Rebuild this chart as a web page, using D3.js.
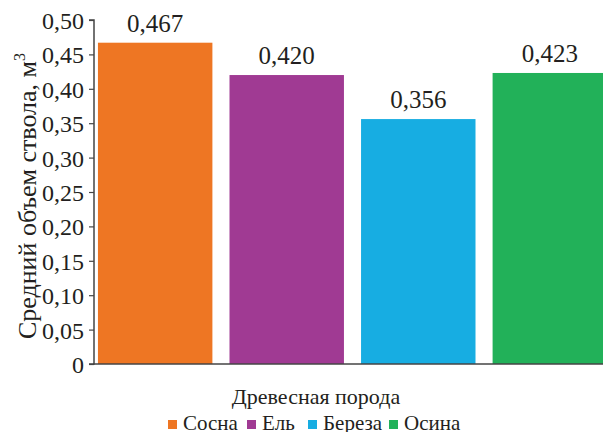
<!DOCTYPE html>
<html>
<head>
<meta charset="utf-8">
<script src="https://cdn.jsdelivr.net/npm/d3@7"></script>
</head>
<body style="margin:0;background:#fff">
<div id="chart"></div>
<script>
var species = ["Сосна", "Ель", "Береза", "Осина"];
var volumes = [0.467, 0.420, 0.356, 0.423];
var valueLabels = ["0,467", "0,420", "0,356", "0,423"];
var colors = ["#ee7623", "#a03a93", "#17ade2", "#22b159"];
var yTicks = [0, 0.05, 0.10, 0.15, 0.20, 0.25, 0.30, 0.35, 0.40, 0.45, 0.50];

var width = 603, height = 432;
var serif = "'Liberation Serif'";
var ink = "#231f20";

var svg = d3.select("#chart")
  .append("svg")
  .attr("width", width)
  .attr("height", height);

// plot frame (right part of the last bar is clipped like in the original)
var x = d3.scaleBand()
  .domain(species)
  .range([94, 611])
  .paddingInner(0.13)
  .paddingOuter(0.03);

var y = d3.scaleLinear()
  .domain([0, 0.5])
  .range([364, 20]);

// bars
svg.selectAll(".bar")
  .data(species)
  .enter().append("rect")
  .attr("class", "bar")
  .attr("x", d => x(d))
  .attr("y", (d, i) => y(volumes[i]))
  .attr("width", x.bandwidth())
  .attr("height", (d, i) => y(0) - y(volumes[i]))
  .attr("fill", (d, i) => colors[i]);

// value labels above bars
svg.selectAll(".val")
  .data(species)
  .enter().append("text")
  .attr("class", "val")
  .attr("x", d => x(d) + x.bandwidth() / 2)
  .attr("y", (d, i) => y(volumes[i]) - 11)
  .attr("text-anchor", "middle")
  .style("font-family", serif)
  .style("font-size", "25px")
  .style("fill", ink)
  .text((d, i) => valueLabels[i]);

// y axis
var yAxis = d3.axisLeft(y)
  .tickValues(yTicks)
  .tickSize(5)
  .tickPadding(5)
  .tickFormat(d => d === 0 ? "0" : d3.format(".2f")(d).replace(".", ","));

var gy = svg.append("g")
  .attr("transform", "translate(94,0)")
  .call(yAxis);
gy.select(".domain").attr("stroke", "#444").attr("stroke-width", 1.5).attr("d", "M-5,20H0V364H-5");
gy.selectAll(".tick line").attr("stroke", "#444").attr("stroke-width", 1.2);
gy.selectAll(".tick text")
  .style("font-family", serif)
  .style("font-size", "24px")
  .style("fill", ink)
  .attr("dy", "0.35em");

// x axis baseline
svg.append("line")
  .attr("x1", 93).attr("x2", width)
  .attr("y1", y(0)).attr("y2", y(0))
  .attr("stroke", "#444")
  .attr("stroke-width", 1.5);

// y axis title
var yt = svg.append("text")
  .attr("transform", "translate(36,196) rotate(-90)")
  .attr("text-anchor", "middle")
  .style("font-family", serif)
  .style("font-size", "26px")
  .style("fill", ink);
yt.append("tspan").text("Средний объем ствола, м");
yt.append("tspan").attr("dy", "-11").style("font-size", "16px").text("3");

// x axis title
svg.append("text")
  .attr("x", 316)
  .attr("y", 404)
  .attr("text-anchor", "middle")
  .style("font-family", serif)
  .style("font-size", "22px")
  .style("fill", ink)
  .text("Древесная порода");

// legend
var legendX = [168, 247, 308, 389];
var legend = svg.selectAll(".legend")
  .data(species)
  .enter().append("g")
  .attr("class", "legend")
  .attr("transform", (d, i) => "translate(" + legendX[i] + ",420)");

legend.append("rect")
  .attr("width", 9)
  .attr("height", 9)
  .attr("fill", (d, i) => colors[i]);

legend.append("text")
  .attr("x", 15)
  .attr("y", 10)
  .style("font-family", serif)
  .style("font-size", "21px")
  .style("fill", ink)
  .text(d => d);
</script>
</body>
</html>
